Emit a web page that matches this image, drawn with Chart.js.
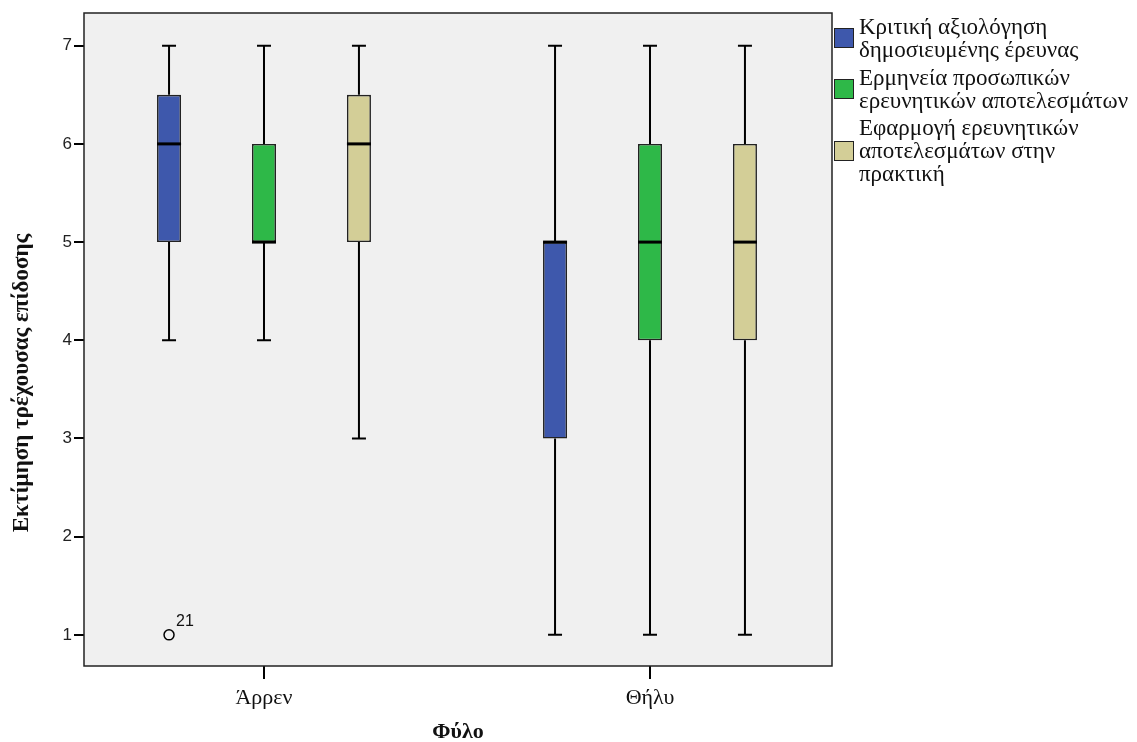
<!DOCTYPE html>
<html lang="el">
<head>
<meta charset="utf-8">
<title>Εκτίμηση τρέχουσας επίδοσης ανά φύλο</title>
<script src="https://cdn.jsdelivr.net/npm/chart.js@4/dist/chart.umd.min.js"></script>
<style>
  html, body { margin: 0; padding: 0; background: #fff; }
  #wrap { position: relative; width: 1137px; height: 742px; overflow: hidden; }
  #chart { position: absolute; left: 0; top: 0; }
  #legend {
    position: absolute; left: 834px; top: 15px;
    font-family: 'Liberation Serif', 'Times New Roman', serif;
    font-size: 23px; line-height: 23px; color: #111;
  }
  .item { display: flex; align-items: center; margin-bottom: 4.5px; }
  .swatch { width: 18px; height: 18px; border: 1px solid #222; flex: none; margin-right: 5px; }
</style>
</head>
<body>
<div id="wrap">
  <canvas id="chart" width="1137" height="742"></canvas>
  <div id="legend"></div>
</div>
<script>
// Groups on the x axis
const groups = ['Άρρεν', 'Θήλυ'];
const groupPositions = [1, 2];

// Series names (legend lines) and fill colours
const seriesLines = [
  ['Κριτική αξιολόγηση', 'δημοσιευμένης έρευνας'],
  ['Ερμηνεία προσωπικών', 'ερευνητικών αποτελεσμάτων'],
  ['Εφαρμογή ερευνητικών', 'αποτελεσμάτων στην', 'πρακτική']
];
const seriesColors = ['#3E58AC', '#2EB848', '#D3CE97'];

// Five-number summaries per group: [min, Q1, median, Q3, max]
const kritikiBox   = [[4, 5, 6, 6.5, 7], [1, 3, 5, 5, 7]];
const ermineiaBox  = [[4, 5, 5, 6, 7],   [1, 4, 5, 6, 7]];
const efarmogiBox  = [[3, 5, 6, 6.5, 7], [1, 4, 5, 6, 7]];
const seriesBoxes = [kritikiBox, ermineiaBox, efarmogiBox];

// Outlying cases: series index, group index, value, case label
const outlierSeries = [0];
const outlierGroups = [0];
const outlierValues = [1];
const outlierLabels = ['21'];

// Axis ticks and titles
const yTickValues = [1, 2, 3, 4, 5, 6, 7];
const yTitle = 'Εκτίμηση τρέχουσας επίδοσης';
const xTitle = 'Φύλο';

const SERIF = "'Liberation Serif', 'Times New Roman', serif";
const SANS = "'Liberation Sans', Arial, sans-serif";

// Legend built from the series arrays
const legendEl = document.getElementById('legend');
seriesLines.forEach((lines, i) => {
  const row = document.createElement('div');
  row.className = 'item';
  const sw = document.createElement('div');
  sw.className = 'swatch';
  sw.style.background = seriesColors[i];
  const txt = document.createElement('div');
  lines.forEach((l, k) => {
    if (k) txt.appendChild(document.createElement('br'));
    txt.appendChild(document.createTextNode(l));
  });
  row.appendChild(sw);
  row.appendChild(txt);
  legendEl.appendChild(row);
});

// Boxes are floating bars from Q1 to Q3
const datasets = seriesBoxes.map((boxes, i) => ({
  label: seriesLines[i].join(' '),
  data: boxes.map((b, g) => ({ x: groupPositions[g], y: [b[1], b[3]] })),
  backgroundColor: seriesColors[i],
  borderColor: '#222',
  borderWidth: 1.6,
  borderSkipped: false,
  categoryPercentage: 0.738,
  barPercentage: 0.253
}));

// Panel background, frame and axis titles
const panelPlugin = {
  id: 'panel',
  beforeDraw(chart) {
    const { ctx, chartArea: a } = chart;
    ctx.save();
    ctx.fillStyle = '#F0F0F0';
    ctx.fillRect(a.left, a.top, a.right - a.left, a.bottom - a.top);
    ctx.restore();
  },
  afterDraw(chart) {
    const { ctx, chartArea: a } = chart;
    ctx.save();
    ctx.strokeStyle = '#222';
    ctx.lineWidth = 1.5;
    ctx.strokeRect(a.left, a.top, a.right - a.left, a.bottom - a.top);
    ctx.fillStyle = '#111';
    ctx.textAlign = 'center';
    ctx.textBaseline = 'middle';
    ctx.font = 'bold 22px ' + SERIF;
    ctx.fillText(xTitle, (a.left + a.right) / 2, 732);
    ctx.font = 'bold 23px ' + SERIF;
    ctx.translate(22, 383);
    ctx.rotate(-Math.PI / 2);
    ctx.fillText(yTitle, 0, 0);
    ctx.restore();
  }
};

// Whiskers, medians and outliers placed on the bar elements
const boxPlugin = {
  id: 'boxParts',
  beforeDatasetsDraw(chart) {
    const { ctx } = chart;
    const y = chart.scales.y;
    ctx.save();
    ctx.strokeStyle = '#000';
    ctx.lineWidth = 2;
    seriesBoxes.forEach((boxes, i) => {
      const meta = chart.getDatasetMeta(i);
      boxes.forEach((b, g) => {
        const bar = meta.data[g];
        const x = bar.x;
        const cap = 7;
        const yMin = y.getPixelForValue(b[0]);
        const yQ1 = y.getPixelForValue(b[1]);
        const yQ3 = y.getPixelForValue(b[3]);
        const yMax = y.getPixelForValue(b[4]);
        ctx.beginPath();
        ctx.moveTo(x, yQ3); ctx.lineTo(x, yMax);
        ctx.moveTo(x - cap, yMax); ctx.lineTo(x + cap, yMax);
        ctx.moveTo(x, yQ1); ctx.lineTo(x, yMin);
        ctx.moveTo(x - cap, yMin); ctx.lineTo(x + cap, yMin);
        ctx.stroke();
      });
    });
    ctx.restore();
  },
  afterDatasetsDraw(chart) {
    const { ctx } = chart;
    const y = chart.scales.y;
    ctx.save();
    ctx.strokeStyle = '#000';
    ctx.lineWidth = 3;
    seriesBoxes.forEach((boxes, i) => {
      const meta = chart.getDatasetMeta(i);
      boxes.forEach((b, g) => {
        const bar = meta.data[g];
        const half = bar.width / 2;
        const ym = y.getPixelForValue(b[2]);
        ctx.beginPath();
        ctx.moveTo(bar.x - half, ym);
        ctx.lineTo(bar.x + half, ym);
        ctx.stroke();
      });
    });
    ctx.lineWidth = 1.5;
    ctx.fillStyle = '#111';
    ctx.font = '16px ' + SANS;
    ctx.textAlign = 'left';
    ctx.textBaseline = 'alphabetic';
    outlierValues.forEach((v, k) => {
      const bar = chart.getDatasetMeta(outlierSeries[k]).data[outlierGroups[k]];
      const px = bar.x;
      const py = y.getPixelForValue(v);
      ctx.beginPath();
      ctx.arc(px, py, 5, 0, Math.PI * 2);
      ctx.stroke();
      ctx.fillText(outlierLabels[k], px + 7, py - 9);
    });
    ctx.restore();
  }
};

new Chart(document.getElementById('chart'), {
  type: 'bar',
  data: { datasets },
  options: {
    responsive: false,
    devicePixelRatio: 1,
    animation: false,
    events: [],
    layout: { padding: { left: 0, top: 13, right: 305, bottom: 0 } },
    plugins: { legend: { display: false }, tooltip: { enabled: false } },
    scales: {
      x: {
        type: 'linear',
        offset: false,
        min: 0.5337,
        max: 2.4715,
        afterBuildTicks(axis) { axis.ticks = groupPositions.map(v => ({ value: v })); },
        afterFit(axis) { axis.height = 76; },
        ticks: {
          callback: (v) => groups[groupPositions.indexOf(v)] ?? '',
          font: { family: SERIF, size: 22 },
          color: '#111',
          padding: 6,
          maxRotation: 0,
          autoSkip: false
        },
        grid: { display: true, offset: false, drawOnChartArea: false, drawTicks: true, tickLength: 13, color: '#000', lineWidth: 2 },
        border: { display: false }
      },
      y: {
        min: 0.683,
        max: 7.333,
        afterBuildTicks(axis) { axis.ticks = yTickValues.map(v => ({ value: v })); },
        afterFit(axis) { axis.width = 84; },
        ticks: {
          font: { family: SANS, size: 17 },
          color: '#222',
          padding: 2
        },
        grid: { display: true, drawOnChartArea: false, drawTicks: true, tickLength: 10, color: '#000', lineWidth: 2 },
        border: { display: false }
      }
    }
  },
  plugins: [panelPlugin, boxPlugin]
});
</script>
</body>
</html>
